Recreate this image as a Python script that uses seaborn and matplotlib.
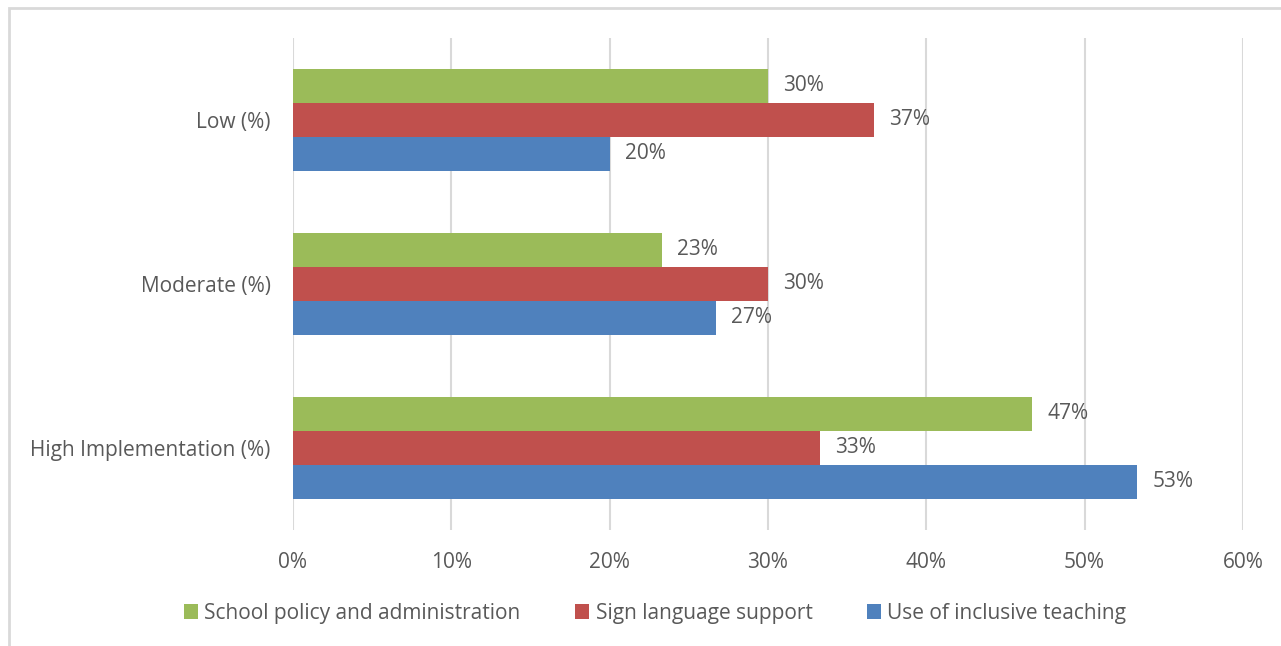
import pandas as pd
import matplotlib
matplotlib.use("Agg")
import matplotlib.pyplot as plt
import seaborn as sns
from matplotlib.patches import Rectangle

# Data
levels = ["Low (%)", "Moderate (%)", "High Implementation (%)"]
series = ["School policy and administration", "Sign language support", "Use of inclusive teaching"]
school_policy = [30.0, 23.3, 46.7]
sign_language = [36.7, 30.0, 33.3]
inclusive_teaching = [20.0, 26.7, 53.3]
x_ticks = [0, 10, 20, 30, 40, 50, 60]

colors = ["#9BBB59", "#C0504D", "#4F81BD"]
text_color = "#595959"

df = pd.DataFrame({
    "level": levels * 3,
    "series": [series[0]] * 3 + [series[1]] * 3 + [series[2]] * 3,
    "value": school_policy + sign_language + inclusive_teaching,
})

sns.set_theme(style="white")
plt.rcParams["font.family"] = ["Open Sans", "DejaVu Sans"]

fig = plt.figure(figsize=(12.81, 6.46), dpi=100)
ax = fig.add_axes([0.2287, 0.1796, 0.7416, 0.7616])

sns.barplot(data=df, x="value", y="level", hue="series", order=levels,
            hue_order=series, palette=colors, orient="h", width=0.622,
            saturation=1, ax=ax, edgecolor="none")

# value labels
for cont in ax.containers:
    ax.bar_label(cont, labels=[f"{v:.0f}%" for v in cont.datavalues],
                 padding=11, fontsize=15, color=text_color)

ax.set_xlim(0, 60)
ax.set_xticks(x_ticks)
ax.set_xticklabels([f"{t}%" for t in x_ticks])
ax.set_ylim(2.5, -0.5)
ax.xaxis.grid(True, color="#D9D9D9", linewidth=1.5)
ax.set_axisbelow(True)
for s in ax.spines.values():
    s.set_visible(False)
ax.tick_params(axis="both", length=0, labelsize=15, colors=text_color)
ax.tick_params(axis="x", pad=16)
ax.tick_params(axis="y", pad=16)
ax.set_xlabel("")
ax.set_ylabel("")

ax.legend(loc="center", bbox_to_anchor=(655 / 1281, 1 - 613 / 646),
          bbox_transform=fig.transFigure, ncol=3, frameon=False,
          fontsize=15, labelcolor=text_color, handlelength=0.7,
          handleheight=0.7, handletextpad=0.3, columnspacing=2.6)

# outer chart border
fig.patches.append(Rectangle((9 / 1281, -0.1), 1.2, 1 - 8 / 646 + 0.1,
                             transform=fig.transFigure, fill=False,
                             edgecolor="#D9D9D9", linewidth=2))

fig.savefig("out.png", dpi=100)
